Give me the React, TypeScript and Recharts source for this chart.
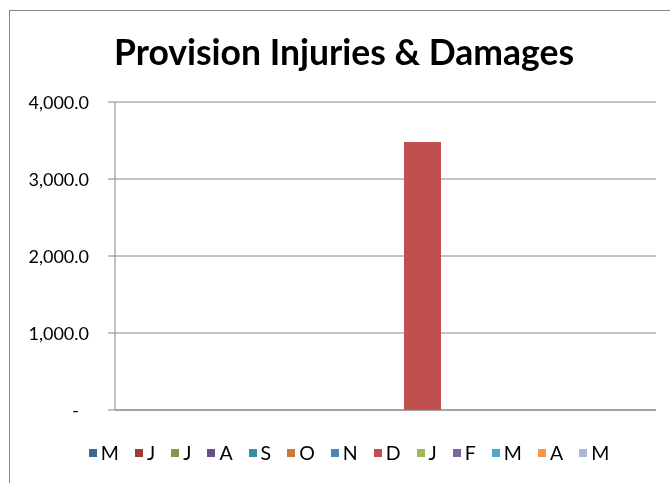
import React from 'react';
import { BarChart, Bar, XAxis, YAxis, CartesianGrid, Legend } from 'recharts';

const months = ['M', 'J', 'J', 'A', 'S', 'O', 'N', 'D', 'J', 'F', 'M', 'A', 'M'];
const seriesKeys = ['m1', 'j1', 'j2', 'a1', 's', 'o', 'n', 'd', 'j3', 'f', 'm2', 'a2', 'm3'];
const seriesValues = [0, 0, 0, 0, 0, 0, 0, 3480, 0, 0, 0, 0, 0];
const seriesColors = [
  '#3C6695', '#9E3B39', '#7E9A48', '#694F88', '#3A8DA5', '#CB7A35',
  '#4F81BD', '#C0504D', '#9BBB59', '#8064A2', '#4BACC6', '#F79646', '#A9B8D8',
];
const yTicks = [0, 1000, 2000, 3000, 4000];

const row: { [key: string]: any } = { name: '' };
seriesKeys.forEach((k, i) => {
  row[k] = seriesValues[i];
});
const data = [row];

const FONT = 'Lato, "Open Sans", sans-serif';
const GRID = '#868686';

const formatTick = (v: number) =>
  v === 0 ? '-' : v.toLocaleString('en-US', { minimumFractionDigits: 1, maximumFractionDigits: 1 });

const YTick: React.FC<any> = ({ x, y, payload }) => (
  <text
    x={payload.value === 0 ? x - 10 : x}
    y={y}
    dy={7}
    textAnchor="end"
    fontSize={18}
    fontFamily={FONT}
    fill="#000"
  >
    {formatTick(payload.value)}
  </text>
);

const LegendContent: React.FC = () => (
  <div
    style={{
      height: 43,
      display: 'flex',
      justifyContent: 'center',
      alignItems: 'flex-start',
      paddingTop: 1,
      paddingLeft: 34,
      boxSizing: 'border-box',
      fontFamily: FONT,
      fontSize: 19.5,
      lineHeight: '24px',
      color: '#000',
    }}
  >
    {months.map((m, i) => (
      <div key={seriesKeys[i]} style={{ display: 'flex', alignItems: 'center', marginRight: i < months.length - 1 ? 16 : 0 }}>
        <span style={{ width: 8, height: 8, background: seriesColors[i], display: 'inline-block', marginRight: 4 }} />
        <span>{m}</span>
      </div>
    ))}
  </div>
);

export default function App() {
  return (
    <div style={{ position: 'relative', width: 662, height: 475, marginBottom: -8, overflow: 'hidden' }}>
      <div
        style={{
          position: 'fixed',
          left: 9,
          top: 10,
          width: 700,
          height: 500,
          borderTop: `1.5px solid ${GRID}`,
          borderLeft: `1.5px solid ${GRID}`,
          background: '#fff',
        }}
      />
      <div
        style={{
          position: 'absolute',
          left: 0,
          width: 672,
          top: 22,
          textAlign: 'center',
          fontFamily: FONT,
          fontWeight: 700,
          fontSize: 35.5,
          lineHeight: '44px',
          color: '#000',
        }}
      >
        Provision Injuries &amp; Damages
      </div>
      <div style={{ position: 'absolute', left: 0, top: 0 }}>
        <BarChart
          width={662}
          height={475}
          data={data}
          margin={{ top: 94, right: 14, left: 0, bottom: 0 }}
          barCategoryGap={30}
          barGap={0}
        >
          <CartesianGrid vertical={false} stroke={GRID} strokeWidth={1} />
          <XAxis dataKey="name" tick={false} tickLine={false} axisLine={{ stroke: GRID }} height={30} />
          <YAxis
            width={107}
            domain={[0, 4000]}
            ticks={yTicks}
            interval={0}
            tick={<YTick />}
            tickSize={7}
            tickMargin={19}
            tickLine={{ stroke: GRID }}
            axisLine={{ stroke: GRID }}
          />
          <Legend verticalAlign="bottom" content={<LegendContent />} />
          {seriesKeys.map((k, i) => (
            <Bar key={k} dataKey={k} name={months[i]} fill={seriesColors[i]} isAnimationActive={false} />
          ))}
        </BarChart>
      </div>
    </div>
  );
}
